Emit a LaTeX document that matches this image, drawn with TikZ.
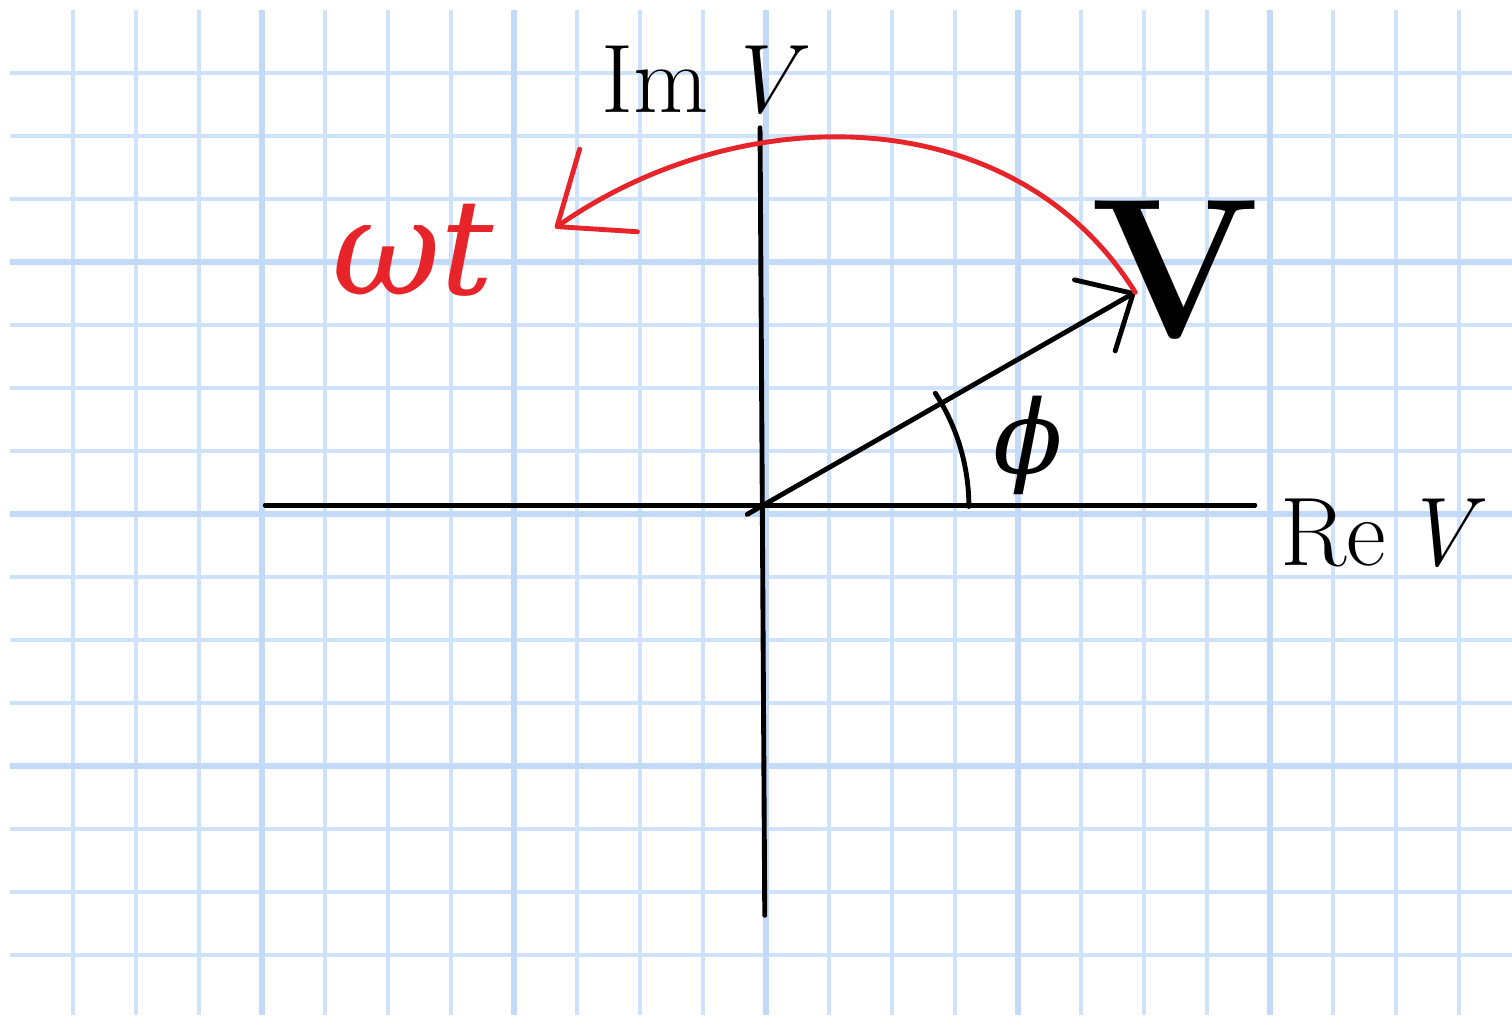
\documentclass[tikz,border=0pt]{standalone}
\usepackage{fontspec}
\usepackage{tikz}
\usetikzlibrary{arrows.meta,positioning}

\newfontfamily\greekfont{DejaVu Serif}
\definecolor{paperblue}{HTML}{CFE2FC}
\definecolor{paperbluedark}{HTML}{C2D9F8}
\definecolor{penred}{HTML}{E8242B}

\begin{document}
\begin{tikzpicture}[
    minorline/.style={paperblue, line width=1.5pt},
    majorline/.style={paperbluedark, line width=2.6pt},
    axis/.style={black, line width=2.2pt, line cap=round},
    vec/.style={-{Straight Barb[length=7mm, width=13mm, round]}, black, line width=2.2pt, line cap=round},
    rot/.style={-{Straight Barb[length=10mm, width=16mm, round]}, penred, line width=2.2pt, line cap=round},
    lbl/.style={inner sep=0pt, font=\fontsize{44}{48}\selectfont}
]
\useasboundingbox (-0.159,0.159) rectangle (23.841,-15.952);
\fill[white] (-0.159,0.159) rectangle (23.841,-15.952);
% paper grid
\foreach \i in {1,...,23} \draw[minorline] (\i,0) -- (\i,-15.952);
\foreach \j in {1,...,15} \draw[minorline] (0,-\j) -- (23.841,-\j);
\foreach \i in {4,8,...,20} \draw[majorline] (\i,0) -- (\i,-15.952);
\foreach \j in {4,8,12} \draw[majorline] (0,-\j) -- (23.841,-\j);

\coordinate (xl) at (4.05,-7.86);
\coordinate (xr) at (19.76,-7.86);
\coordinate (yt) at (11.905,-1.87);
\coordinate (yb) at (11.98,-14.37);
\coordinate (O) at (11.92,-7.88);
\coordinate (V) at (17.86,-4.48);
\coordinate (W) at (8.65,-3.46);

\draw[axis] (xl) -- (xr);
\draw[axis] (yt) -- (yb);
\draw[vec, shorten <=-2.5mm] (O) -- (V);
\draw[axis] (O) ++(0:3.3) arc[start angle=0, end angle=33, radius=3.3];
\draw[rot] (V) to[out=122, in=35] (W);

\node[lbl, above=2mm of yt, xshift=-8.7mm] (imv) {Im\,\textit{V}};
\node[lbl, right=4mm of xr, yshift=-4.5mm] (rev) {Re\,\textit{V}};
\node[lbl, font=\fontsize{90}{90}\selectfont\bfseries] (vlbl) at (18.49,-4.13) {V};
\node[lbl, penred, font=\fontsize{60}{60}\selectfont\greekfont\itshape] (wt) at (6.40,-3.81) {ωt};
\node[lbl, font=\fontsize{46}{46}\selectfont\greekfont\itshape] (phi) at (16.16,-6.905) {ϕ};
\end{tikzpicture}
\end{document}
